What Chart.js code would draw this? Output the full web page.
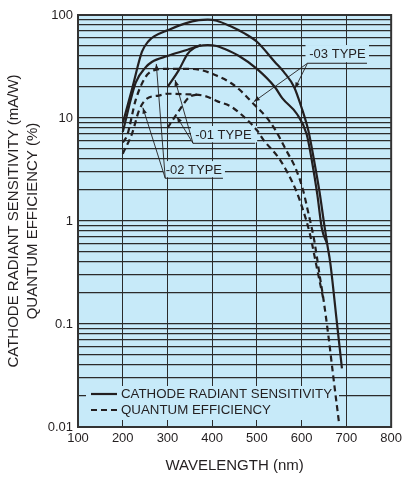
<!DOCTYPE html>
<html>
<head>
<meta charset="utf-8">
<script src="https://cdn.jsdelivr.net/npm/chart.js@4.4.1/dist/chart.umd.min.js"></script>
<style>
  html, body { margin: 0; padding: 0; background: #fff; }
  #wrap { width: 406px; height: 477px; }
</style>
</head>
<body>
<div id="wrap"><canvas id="chart"></canvas></div>
<script>
// wavelength (nm) and value for each curve
// (-01 and -02 curves stop where they join the curve they follow)
const wl03Sens = [200, 222, 243, 258, 270, 300, 340, 370, 390, 410, 440, 470, 500, 540, 560, 583, 600, 615, 629, 640, 650, 657, 664, 678, 690]
const sens03 = [8.9, 20, 44, 56, 62, 71, 83, 89, 90, 88, 78, 67, 55, 35, 28, 20, 12.5, 7.5, 3.6, 1.9, 0.95, 0.6, 0.39, 0.11, 0.037]

const wl02Sens = [200, 229, 251, 265, 300, 345, 370, 390, 410, 427, 460, 500, 540, 557, 589, 611, 623, 635, 645, 657]
const sens02 = [7.3, 22, 31, 35, 40, 46, 50, 51, 50, 47, 40, 30, 20, 15.5, 11, 7, 3.8, 1.8, 0.85, 0.6]

const wl01Sens = [300, 325, 345, 360, 375]
const sens01 = [20, 29, 42, 48, 51]

const wl03Qe = [200, 210, 229, 251, 269, 300, 338, 370, 408, 441, 460, 489, 521, 540, 565, 587, 603, 613, 628, 640, 649, 660, 671, 684]
const qe03 = [5.8, 6.8, 15, 25, 29, 30, 30, 29.5, 26, 22, 19, 14.2, 10.2, 7.8, 4.9, 3.2, 2.0, 1.3, 0.65, 0.3, 0.17, 0.075, 0.03, 0.0105]

const wl02Qe = [200, 221, 237, 255, 280, 300, 340, 383, 412, 442, 478, 500, 515, 552, 587, 603, 618, 634, 649]
const qe02 = [4.5, 7.1, 12, 15.5, 16.5, 17.2, 17, 16.4, 14.5, 12.9, 9.6, 7.6, 6.1, 3.9, 2.0, 1.28, 0.76, 0.35, 0.17]

const wl01Qe = [300, 327, 349, 370]
const qe01 = [8, 12, 16, 17]

const xTicks = [100, 200, 300, 400, 500, 600, 700, 800]
const yDecades = [0.01, 0.1, 1, 10, 100]
const yTickLabels = ['0.01', '0.1', '1', '10', '100']

const INK = '#231f20'
const GRID = '#2b2b2b'
const FONT = "'Liberation Sans', Arial, Helvetica, sans-serif"
const BG = '#c7eaf9'

// all log grid lines: 1..9 x each decade
let yGrid = []
yDecades.forEach((d, i) => {
    if (i === yDecades.length - 1) { yGrid.push(d); return }
    for (let m = 1; m < 10; m++) yGrid.push(+(d * m).toPrecision(3))
})

function pts(xs, ys) {
    return xs.map((x, i) => ({x: x, y: ys[i]}))
}

function curve(label, xs, ys, dashed) {
    return {
        label: label,
        data: pts(xs, ys),
        borderColor: INK,
        borderWidth: 2.2,
        borderDash: dashed ? [6, 4] : [],
        pointRadius: 0,
        fill: false,
        cubicInterpolationMode: 'monotone'
    }
}

// type labels, positioned in data units
const typeNotes = [
    {text: '-03 TYPE', at: [680, 41.8], line: [613, 746, 34], tips: [[493, 14.4], [585, 19.4]]},
    {text: '-01 TYPE', at: [425, 6.84], line: [357, 496, 5.68], tips: [[317, 23.4], [321, 10.3]]},
    {text: '-02 TYPE', at: [359, 3.12], line: [295, 424, 2.6], tips: [[275, 33.5], [245, 12.6]]}
]

const bgPlugin = {
    id: 'bg',
    beforeDraw(chart) {
        let a = chart.chartArea, ctx = chart.ctx
        ctx.save()
        ctx.fillStyle = BG
        ctx.fillRect(a.left, a.top, a.right - a.left, a.bottom - a.top)
        ctx.restore()
    }
}

function arrow(ctx, x0, y0, x1, y1) {
    ctx.beginPath()
    ctx.moveTo(x0, y0)
    ctx.lineTo(x1, y1)
    ctx.stroke()
    let ang = Math.atan2(y1 - y0, x1 - x0), len = 6, w = 2.3
    ctx.beginPath()
    ctx.moveTo(x1, y1)
    ctx.lineTo(x1 - len * Math.cos(ang) + w * Math.sin(ang), y1 - len * Math.sin(ang) - w * Math.cos(ang))
    ctx.lineTo(x1 - len * Math.cos(ang) - w * Math.sin(ang), y1 - len * Math.sin(ang) + w * Math.cos(ang))
    ctx.closePath()
    ctx.fill()
}

const notesPlugin = {
    id: 'notes',
    beforeDatasetsDraw(chart) {
        let ctx = chart.ctx, xs = chart.scales.x, ys = chart.scales.y, a = chart.chartArea
        ctx.save()
        ctx.font = '13px ' + FONT
        ctx.textBaseline = 'middle'
        ctx.textAlign = 'center'
        typeNotes.forEach(n => {
            let l = xs.getPixelForValue(n.line[0]), r = xs.getPixelForValue(n.line[1])
            let uy = ys.getPixelForValue(n.line[2])
            let tx = xs.getPixelForValue(n.at[0]), ty = ys.getPixelForValue(n.at[1])
            ctx.fillStyle = BG
            ctx.fillRect(l - 2, ty - 9, r - l + 4, uy - ty + 8)
            ctx.fillStyle = INK
            ctx.fillText(n.text, tx, ty)
            ctx.strokeStyle = INK
            ctx.lineWidth = 1
            ctx.beginPath()
            ctx.moveTo(l, uy)
            ctx.lineTo(r, uy)
            ctx.stroke()
            ctx.lineWidth = 0.9
            n.tips.forEach(t => arrow(ctx, l, uy, xs.getPixelForValue(t[0]), ys.getPixelForValue(t[1])))
        })

        // legend inside the plot, bottom left
        let lx = a.left + 8, ly = a.bottom - 41
        ctx.fillStyle = BG
        ctx.fillRect(lx, ly, 253, 34)
        ctx.strokeStyle = INK
        ctx.lineWidth = 2.2
        ctx.beginPath()
        ctx.moveTo(lx + 5, ly + 8)
        ctx.lineTo(lx + 31, ly + 8)
        ctx.stroke()
        ctx.setLineDash([6, 4])
        ctx.beginPath()
        ctx.moveTo(lx + 5, ly + 24)
        ctx.lineTo(lx + 33, ly + 24)
        ctx.stroke()
        ctx.setLineDash([])
        ctx.fillStyle = INK
        ctx.textAlign = 'left'
        ctx.font = '13.3px ' + FONT
        ctx.fillText('CATHODE RADIANT SENSITIVITY', lx + 35, ly + 8)
        ctx.fillText('QUANTUM EFFICIENCY', lx + 35, ly + 24)
        ctx.restore()
    },
    afterDatasetsDraw(chart) {
        let a = chart.chartArea, ctx = chart.ctx
        ctx.save()
        ctx.strokeStyle = '#333'
        ctx.lineWidth = 2
        ctx.strokeRect(a.left, a.top, a.right - a.left, a.bottom - a.top)
        ctx.restore()
    }
}

let ctx = document.querySelector('#chart')

let chart = new Chart(ctx, {
    type: 'line',
    data: {
        datasets: [
            curve('-03 sens', wl03Sens, sens03, false),
            curve('-02 sens', wl02Sens, sens02, false),
            curve('-01 sens', wl01Sens, sens01, false),
            curve('-03 qe', wl03Qe, qe03, true),
            curve('-02 qe', wl02Qe, qe02, true),
            curve('-01 qe', wl01Qe, qe01, true)
        ]
    },
    options: {
        responsive: true,
        maintainAspectRatio: false,
        animation: false,
        layout: {padding: {top: 15, right: 10, left: 0, bottom: 0}},
        plugins: {legend: {display: false}, tooltip: {enabled: false}},
        scales: {
            x: {
                type: 'linear',
                min: 100,
                max: 800,
                afterBuildTicks: s => { s.ticks = xTicks.map(v => ({value: v})) },
                afterFit: s => { s.height = 50 },
                grid: {color: GRID, lineWidth: 1, drawTicks: false},
                border: {color: GRID, width: 1},
                ticks: {color: INK, font: {family: FONT, size: 13}, padding: 4, autoSkip: false, maxRotation: 0},
                title: {display: true, text: 'WAVELENGTH (nm)', color: INK, font: {family: FONT, size: 15}, padding: {top: 0, bottom: 2}}
            },
            y: {
                type: 'logarithmic',
                min: 0.01,
                max: 100,
                afterBuildTicks: s => { s.ticks = yGrid.map(v => ({value: v})) },
                afterFit: s => { s.width = 78 },
                grid: {color: GRID, lineWidth: 1.2, drawTicks: false},
                border: {color: GRID, width: 1},
                ticks: {
                    color: INK,
                    font: {family: FONT, size: 13},
                    padding: 5,
                    autoSkip: false,
                    callback: v => {
                        let i = yDecades.findIndex(d => Math.abs(d - v) < d * 1e-6)
                        return i >= 0 ? yTickLabels[i] : ''
                    }
                },
                title: {
                    display: true,
                    text: ['CATHODE RADIANT SENSITIVITY (mA/W)', 'QUANTUM EFFICIENCY (%)'],
                    color: INK,
                    font: {family: FONT, size: 15, lineHeight: 1.3},
                    padding: {top: 4, bottom: 0}
                }
            }
        }
    },
    plugins: [bgPlugin, notesPlugin]
})
</script>
</body>
</html>
